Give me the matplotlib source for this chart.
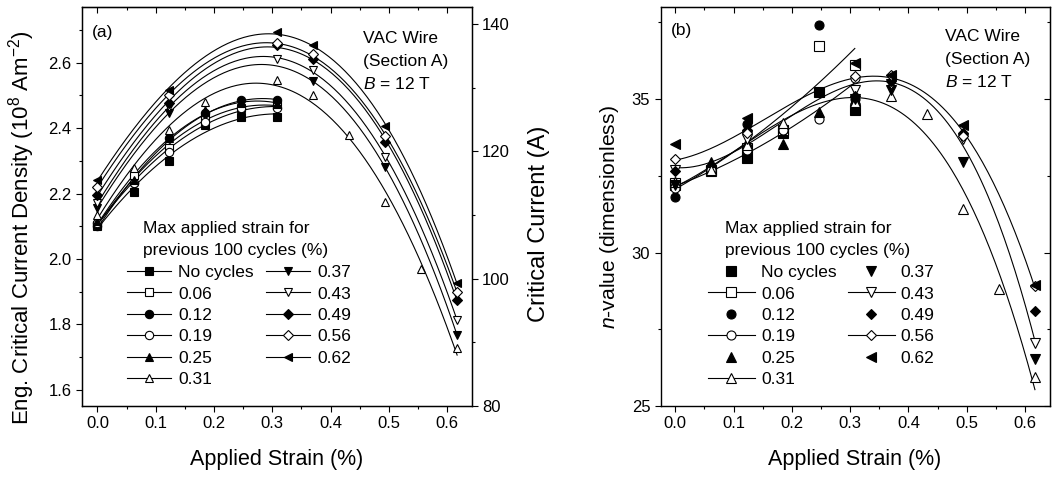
import numpy as np
import matplotlib
matplotlib.use("Agg")
import matplotlib.pyplot as plt
from matplotlib.ticker import MultipleLocator

plt.rcParams['font.family'] = ['Liberation Sans', 'DejaVu Sans']
plt.rcParams['mathtext.fontset'] = 'custom'
plt.rcParams['mathtext.rm'] = 'Liberation Sans'
plt.rcParams['mathtext.it'] = 'Liberation Sans:italic'
plt.rcParams['mathtext.bf'] = 'Liberation Sans:bold'

# ---------------- data ----------------
series_labels = ["No cycles", "0.06", "0.12", "0.19", "0.25", "0.31",
                 "0.37", "0.43", "0.49", "0.56", "0.62"]
series_markers = ['s', 's', 'o', 'o', '^', '^', 'v', 'v', 'D', 'D', '<']
series_filled = [True, False, True, False, True, False, True, False, True, False, True]

x_short = [0.0, 0.062, 0.123, 0.185, 0.247, 0.308]
x_long31 = [0.0, 0.062, 0.123, 0.185, 0.308, 0.370, 0.432, 0.493, 0.555, 0.617]
x_upper = [0.0, 0.123, 0.308, 0.370, 0.493, 0.617]
x_upper37 = [0.0, 0.123, 0.370, 0.493, 0.617]

# Panel (a): engineering critical current density (10^8 A m^-2)
jc_nocycles = [2.104, 2.205, 2.300, 2.410, 2.435, 2.435]
jc_006 = [2.100, 2.257, 2.340, 2.430, 2.460, 2.470]
jc_012 = [2.100, 2.232, 2.370, 2.445, 2.485, 2.485]
jc_019 = [2.110, 2.232, 2.327, 2.420, 2.460, 2.460]
jc_025 = [2.115, 2.240, 2.370, 2.455, 2.476, 2.475]
jc_031 = [2.135, 2.278, 2.394, 2.480, 2.547, 2.500, 2.380, 2.174, 1.970, 1.728]
jc_037 = [2.157, 2.446, 2.544, 2.280, 1.768]
jc_043 = [2.170, 2.465, 2.611, 2.578, 2.313, 1.814]
jc_049 = [2.196, 2.477, 2.655, 2.610, 2.359, 1.875]
jc_056 = [2.221, 2.500, 2.661, 2.625, 2.375, 1.900]
jc_062 = [2.242, 2.516, 2.695, 2.654, 2.405, 1.927]

# Panel (b): n-value
n_nocycles = [32.20, 32.70, 33.09, 33.90, 35.22, 34.64]
n_006 = [32.25, 32.66, 33.40, 33.99, 36.74, 36.10]
n_012 = [31.81, 32.80, 34.20, 34.00, 37.42, 35.00]
n_019 = [32.10, 32.70, 33.33, 34.00, 34.34, 35.70]
n_025 = [32.30, 32.95, 33.60, 33.53, 34.59, 35.00]
n_031 = [32.30, 32.68, 33.50, 34.23, 34.90, 35.10, 34.50, 31.43, 28.81, 25.96]
n_037 = [32.20, 33.80, 35.00, 35.30, 32.95, 26.53]
n_043 = [32.70, 33.70, 35.29, 35.50, 33.70, 27.05]
n_049 = [32.66, 34.00, 35.10, 35.60, 33.88, 28.10]
n_056 = [33.05, 33.90, 35.75, 35.80, 33.80, 28.90]
n_062 = [33.55, 34.37, 36.17, 35.80, 34.15, 28.95]

x_a = [x_short] * 5 + [x_long31, x_upper37, x_upper, x_upper, x_upper, x_upper]
y_a = [jc_nocycles, jc_006, jc_012, jc_019, jc_025, jc_031,
       jc_037, jc_043, jc_049, jc_056, jc_062]
x_b = [x_short] * 5 + [x_long31, x_upper, x_upper, x_upper, x_upper, x_upper]
y_b = [n_nocycles, n_006, n_012, n_019, n_025, n_031,
       n_037, n_043, n_049, n_056, n_062]
fit_in_b = [False, True, False, True, False, True, False, True, False, True, False]

# ---------------- figure ----------------
W, H = 1058, 478
fig = plt.figure(figsize=(W / 100, H / 100), dpi=100)

def rect(l, r, t, b):
    return [l / W, 1 - b / H, (r - l) / W, (b - t) / H]

def fx(px):
    return px / W

def fy(py):
    return 1 - py / H

axA = fig.add_axes(rect(81.7, 471.7, 7, 406))
axB = fig.add_axes(rect(660.7, 1049.5, 7, 406))

LW = 0.8
TICKFS = 12
LABFS = 15.5
LEGFS = 12.5
ANNFS = 12.5


def fit_curve(x, y, deg):
    x = np.asarray(x)
    p = np.polyfit(x, y, deg)
    xx = np.linspace(x.min(), x.max(), 200)
    return xx, np.polyval(p, xx)


def style_axis(ax):
    ax.xaxis.set_major_locator(MultipleLocator(0.1))
    ax.xaxis.set_minor_locator(MultipleLocator(0.05))
    ax.tick_params(axis='both', which='both', labelsize=TICKFS, width=0.8)
    ax.tick_params(which='major', length=4)
    ax.tick_params(which='minor', length=2.5)
    ax.tick_params(axis='x', which='both', direction='out', top=False, bottom=True)
    ax.tick_params(axis='y', which='both', direction='out', left=True, right=False)
    for s in ax.spines.values():
        s.set_linewidth(1.0)


def top_ticks(ax):
    t = ax.secondary_xaxis('top')
    t.xaxis.set_major_locator(MultipleLocator(0.1))
    t.xaxis.set_minor_locator(MultipleLocator(0.05))
    t.tick_params(which='both', direction='in', labeltop=False, width=0.8)
    t.tick_params(which='major', length=4)
    t.tick_params(which='minor', length=2.5)


# ---- panel (a) ----
handles_a = []
for i in range(11):
    xs, ys = x_a[i], y_a[i]
    deg = 2 if i < 5 else 3
    xx, yy = fit_curve(xs, ys, deg)
    axA.plot(xx, yy, color='black', lw=LW, zorder=2)
    mfc = 'black' if series_filled[i] else 'white'
    ms = 6 if series_markers[i] != 'D' else 5
    axA.plot(xs, ys, linestyle='none', marker=series_markers[i], ms=ms,
             mfc=mfc, mec='black', mew=0.8, zorder=3)
    h, = axA.plot([], [], color='black', lw=LW, marker=series_markers[i], ms=ms,
                  mfc=mfc, mec='black', mew=0.8, label=series_labels[i])
    handles_a.append(h)

axA.set_xlim(-0.027, 0.642)
axA.set_ylim(1.551, 2.770)
axA.yaxis.set_major_locator(MultipleLocator(0.2))
axA.yaxis.set_minor_locator(MultipleLocator(0.1))
style_axis(axA)
top_ticks(axA)
axA.set_xlabel("Applied Strain (%)", fontsize=LABFS, labelpad=13)

axA2 = axA.twinx()
axA2.set_ylim(80, 142.7)
axA2.yaxis.set_major_locator(MultipleLocator(20))
axA2.yaxis.set_minor_locator(MultipleLocator(10))
axA2.tick_params(axis='y', which='both', labelsize=TICKFS, direction='out', width=0.8)
axA2.tick_params(which='major', length=4)
axA2.tick_params(which='minor', length=2.5)

fig.text(fx(22), fy(228), "Eng. Critical Current Density (10$^{8}$ Am$^{-2}$)",
         rotation=90, ha='center', va='center', fontsize=16)
fig.text(fx(539), fy(224), "Critical Current (A)",
         rotation=90, ha='center', va='center', fontsize=17)

fig.text(fx(92), fy(32), "(a)", fontsize=ANNFS, va='center')
for k, s in enumerate(["VAC Wire", "(Section A)", "$B$ = 12 T"]):
    fig.text(fx(362.7), fy(43 + 23 * k), s, fontsize=ANNFS, va='baseline')

fig.text(fx(143), fy(233.5), "Max applied strain for", fontsize=LEGFS, va='baseline')
fig.text(fx(143), fy(255.5), "previous 100 cycles (%)", fontsize=LEGFS, va='baseline')
legA = axA.legend(handles=handles_a, ncol=2, loc='upper left',
                  bbox_to_anchor=(fx(127), fy(265)), bbox_transform=fig.transFigure,
                  frameon=False, fontsize=LEGFS, handlelength=2.55, handletextpad=0.4,
                  columnspacing=0.7, labelspacing=0.36, borderpad=0, borderaxespad=0)

# ---- panel (b) ----
handles_b = []
for i in range(11):
    xs, ys = x_b[i], y_b[i]
    mfc = 'black' if series_filled[i] else 'white'
    ms = 6.5 if series_markers[i] != 'D' else 5.5
    if fit_in_b[i]:
        deg = 2 if i < 5 else 3
        xx, yy = fit_curve(xs, ys, deg)
        axB.plot(xx, yy, color='black', lw=LW, zorder=2)
    axB.plot(xs, ys, linestyle='none', marker=series_markers[i], ms=ms,
             mfc=mfc, mec='black', mew=0.8, zorder=3)
    h, = axB.plot([], [], color='black', lw=LW,
                  linestyle='-' if fit_in_b[i] else 'none',
                  marker=series_markers[i], ms=ms, mfc=mfc, mec='black', mew=0.8,
                  label=series_labels[i])
    handles_b.append(h)

axB.set_xlim(-0.025, 0.642)
axB.set_ylim(25, 38)
axB.yaxis.set_major_locator(MultipleLocator(5))
axB.yaxis.set_minor_locator(MultipleLocator(2.5))
style_axis(axB)
top_ticks(axB)
axBR = axB.secondary_yaxis('right')
axBR.yaxis.set_major_locator(MultipleLocator(5))
axBR.yaxis.set_minor_locator(MultipleLocator(2.5))
axBR.tick_params(which='both', direction='in', labelright=False, width=0.8)
axBR.tick_params(which='major', length=4)
axBR.tick_params(which='minor', length=2.5)

axB.set_xlabel("Applied Strain (%)", fontsize=LABFS, labelpad=13)
fig.text(fx(609.5), fy(217), "$n$-value (dimensionless)",
         rotation=90, ha='center', va='center', fontsize=15.2)

fig.text(fx(671), fy(30), "(b)", fontsize=ANNFS, va='center')
for k, s in enumerate(["VAC Wire", "(Section A)", "$B$ = 12 T"]):
    fig.text(fx(944.7), fy(41 + 23 * k), s, fontsize=ANNFS, va='baseline')

fig.text(fx(724.7), fy(233.5), "Max applied strain for", fontsize=LEGFS, va='baseline')
fig.text(fx(724.7), fy(255.5), "previous 100 cycles (%)", fontsize=LEGFS, va='baseline')
legB = axB.legend(handles=handles_b, ncol=2, loc='upper left',
                  bbox_to_anchor=(fx(708), fy(265)), bbox_transform=fig.transFigure,
                  frameon=False, fontsize=LEGFS, handlelength=2.7, handletextpad=0.35,
                  columnspacing=0.65, labelspacing=0.36, borderpad=0, borderaxespad=0)

fig.savefig("out.png", dpi=100)
